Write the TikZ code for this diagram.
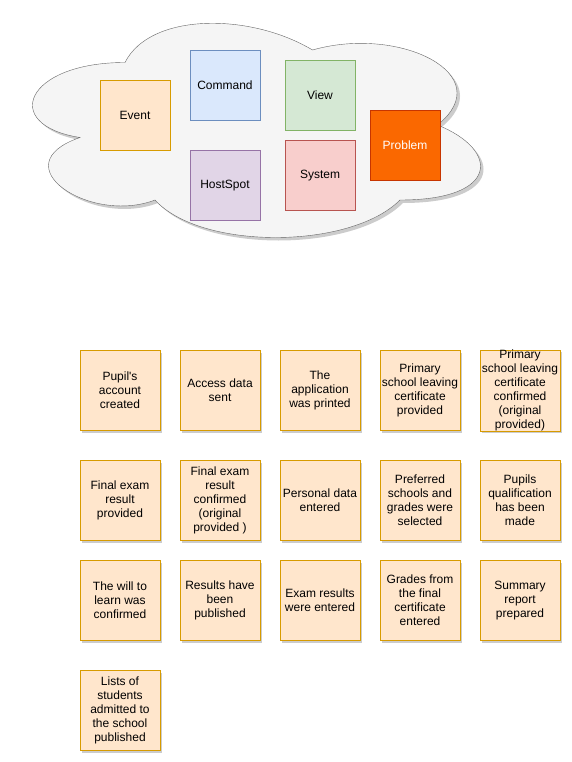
\documentclass[tikz,border=0pt]{standalone}
\usepackage{fontspec}
\setmainfont{Liberation Sans}[Ligatures=TeXOff]
\usetikzlibrary{shadows}
\usepackage{xcolor}
\definecolor{eventfill}{HTML}{FFE6CC}
\definecolor{eventline}{HTML}{D79B00}
\definecolor{cmdfill}{HTML}{DAE8FC}
\definecolor{cmdline}{HTML}{6C8EBF}
\definecolor{viewfill}{HTML}{D5E8D4}
\definecolor{viewline}{HTML}{82B366}
\definecolor{sysfill}{HTML}{F8CECC}
\definecolor{sysline}{HTML}{B85450}
\definecolor{spotfill}{HTML}{E1D5E7}
\definecolor{spotline}{HTML}{9673A6}
\definecolor{probfill}{HTML}{FA6800}
\definecolor{probline}{HTML}{C73500}
\definecolor{cloudfill}{HTML}{F5F5F5}
\definecolor{cloudline}{HTML}{666666}
\tikzset{
    card/.style={
        draw,
        rectangle,
        minimum size=70pt,
        inner sep=0pt,
        align=center,
        font=\fontsize{12}{14}\selectfont
    },
    sticky/.style={
        card,
        minimum size=80pt,
        fill=eventfill,
        draw=eventline,
        drop shadow={shadow xshift=2pt,shadow yshift=-2pt,opacity=.2,fill=black}
    }
}
\newcommand{\kind}[6] {
    \node[card,fill={#4},draw={#5}] (#1) at ({#2}, {#3}) {#6};
}
\newcommand{\sticky}[4] {
    \node[sticky] (#1) at ({#2}, {#3}) {#4};
}

\begin{document}
\begin{tikzpicture}[x=1pt,y=-1pt]
    \useasboundingbox (0,0) rectangle (572,762);
    % legend cloud
    \fill[black,opacity=.2] (128,65.5)
        .. controls (28,65.5) and (3,128) .. (83,140.5)
        .. controls (3,168) and (93,228) .. (158,203)
        .. controls (203,253) and (353,253) .. (403,203)
        .. controls (503,203) and (503,153) .. (440.5,128)
        .. controls (503,78) and (403,28) .. (315.5,53)
        .. controls (253,15.5) and (153,15.5) .. (128,65.5) -- cycle;
    \draw[cloudline,fill=cloudfill] (125,62.5)
        .. controls (25,62.5) and (0,125) .. (80,137.5)
        .. controls (0,165) and (90,225) .. (155,200)
        .. controls (200,250) and (350,250) .. (400,200)
        .. controls (500,200) and (500,150) .. (437.5,125)
        .. controls (500,75) and (400,25) .. (312.5,50)
        .. controls (250,12.5) and (150,12.5) .. (125,62.5) -- cycle;
    \kind{event}{135}{115.5}{eventfill}{eventline}{Event}
    \kind{command}{225}{85.5}{cmdfill}{cmdline}{Command}
    \kind{view}{320}{95.5}{viewfill}{viewline}{View}
    \kind{problem}{405}{145.5}{probfill}{probline}{\textcolor{white}{Problem}}
    \kind{hotspot}{225}{185.5}{spotfill}{spotline}{HostSpot}
    \kind{system}{320}{175.5}{sysfill}{sysline}{System}
    % events
    \sticky{account}{120}{390.5}{Pupil's\\account\\created}
    \sticky{access}{220}{390.5}{Access data\\sent}
    \sticky{printed}{320}{390.5}{The\\application\\was printed}
    \sticky{certgiven}{420}{390.5}{Primary\\school leaving\\certificate\\provided}
    \sticky{certok}{520}{390.5}{Primary\\school leaving\\certificate\\confirmed\\(original\\provided)}
    \sticky{examgiven}{120}{500.5}{Final exam\\result\\provided}
    \sticky{examok}{220}{500.5}{Final exam\\result\\confirmed\\(original\\provided )}
    \sticky{personal}{320}{500.5}{Personal data\\entered}
    \sticky{schools}{420}{500.5}{Preferred\\schools and\\grades were\\selected}
    \sticky{qualified}{520}{500.5}{Pupils\\qualification\\has been\\made}
    \sticky{will}{120}{600.5}{The will to\\learn was\\confirmed}
    \sticky{published}{220}{600.5}{Results have\\been\\published}
    \sticky{examin}{320}{600.5}{Exam results\\were entered}
    \sticky{grades}{420}{600.5}{Grades from\\the final\\certificate\\entered}
    \sticky{summary}{520}{600.5}{Summary\\report\\prepared}
    \sticky{lists}{120}{710.5}{Lists of\\students\\admitted to\\the school\\published}
\end{tikzpicture}
\end{document}
